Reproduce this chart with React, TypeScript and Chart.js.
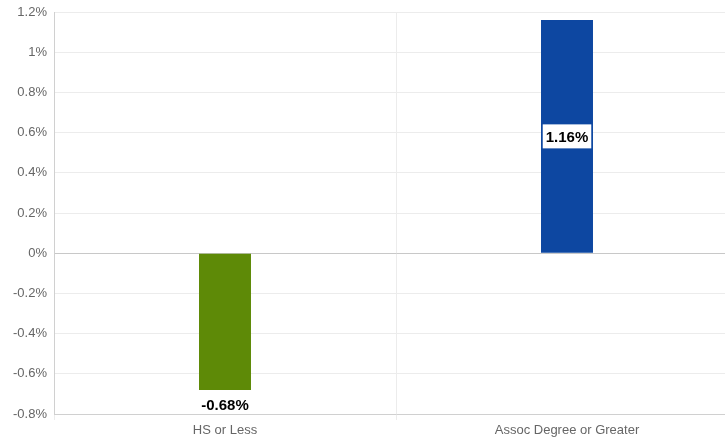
import React, { useEffect, useRef } from "react";
import { Chart, registerables } from "chart.js";

Chart.register(...registerables);

const categories = ["HS or Less", "Assoc Degree or Greater"];
const values = [-0.68, 1.16];
const barColors = ["#5e8a07", "#0d47a1"];
const yMin = -0.8;
const yMax = 1.2;
const yStep = 0.2;

const labelPlugin = {
  id: "valueLabels",
  afterDatasetsDraw(chart: any) {
    const ctx = chart.ctx;
    const meta = chart.getDatasetMeta(0);
    ctx.save();
    ctx.font = "bold 15px 'Liberation Sans', Arial, sans-serif";
    ctx.textAlign = "center";
    ctx.textBaseline = "middle";
    meta.data.forEach((bar: any, i: number) => {
      const v = values[i];
      const text = v.toFixed(2) + "%";
      if (v < 0) {
        ctx.fillStyle = "#000";
        ctx.fillText(text, bar.x, bar.y + 16);
      } else {
        const midY = (bar.y + bar.base) / 2;
        const w = ctx.measureText(text).width + 6;
        ctx.fillStyle = "#fff";
        ctx.fillRect(bar.x - w / 2, midY - 12, w, 24);
        ctx.fillStyle = "#000";
        ctx.fillText(text, bar.x, midY + 1);
      }
    });
    ctx.restore();
  },
};

export default function App() {
  const ref = useRef<HTMLCanvasElement>(null);
  useEffect(() => {
    if (!ref.current) return;
    const chart = new Chart(ref.current, {
      type: "bar",
      data: {
        labels: categories,
        datasets: [
          {
            data: values,
            backgroundColor: barColors,
            categoryPercentage: 1,
            barPercentage: 0.152,
          },
        ],
      },
      plugins: [labelPlugin],
      options: {
        animation: false,
        responsive: false,
        maintainAspectRatio: false,
        layout: { padding: { top: 0, right: 0, bottom: 0, left: 0 } },
        plugins: { legend: { display: false }, tooltip: { enabled: false } },
        scales: {
          x: {
            offset: true,
            grid: {
              display: true,
              offset: true,
              color: "#ececec",
              tickLength: 6,
            },
            border: { display: true, color: "#d0d0d0" },
            ticks: {
              color: "#666",
              padding: 3,
              font: { size: 13, family: "'Liberation Sans', Arial, sans-serif" },
            },
            afterFit(scale: any) {
              scale.height = 25;
            },
          },
          y: {
            min: yMin,
            max: yMax,
            grid: {
              drawTicks: false,
              color: (c: any) =>
                c.tick && Math.abs(c.tick.value) < 1e-9 ? "#c8c8c8" : "#ececec",
            },
            border: { display: true, color: "#d0d0d0" },
            ticks: {
              stepSize: yStep,
              padding: 7,
              color: "#666",
              font: { size: 13, family: "'Liberation Sans', Arial, sans-serif" },
              callback: (v: any) => Number(Number(v).toFixed(1)) + "%",
            },
            afterFit(scale: any) {
              scale.width = 54;
              scale.paddingTop = 12;
            },
          },
        },
      },
    });
    return () => chart.destroy();
  }, []);
  return (
    <div
      style={{
        position: "fixed",
        left: 0,
        top: 0,
        width: 725,
        height: 439,
        overflow: "hidden",
        background: "#fff",
      }}
    >
      <canvas ref={ref} width={738} height={439} style={{ display: "block" }} />
    </div>
  );
}
